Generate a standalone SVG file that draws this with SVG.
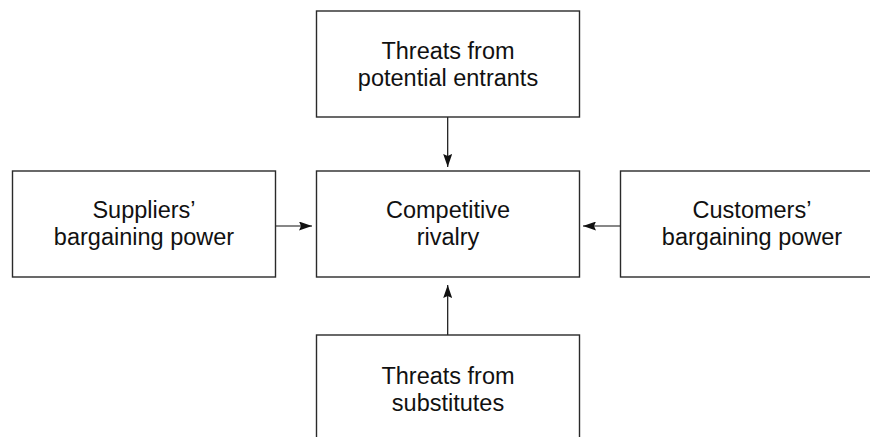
<svg xmlns="http://www.w3.org/2000/svg" width="870" height="437" viewBox="0 0 870 437">
<style>
.box{fill:#fff;stroke:#2a2a2a;stroke-width:1.4}
.lbl{font-family:"Liberation Sans",Arial,sans-serif;font-size:23.5px;fill:#111;text-anchor:middle}
.con{stroke:#111;stroke-width:1.2;fill:none;marker-end:url(#ah)}
</style>
<defs>
<marker id="ah" viewBox="0 0 13 9" refX="13" refY="4.5" markerWidth="13" markerHeight="9" markerUnits="userSpaceOnUse" orient="auto">
<path d="M0,0 L13,4.5 L0,9 L2,4.5 z" fill="#111"/>
</marker>
</defs>
<rect width="870" height="437" fill="#fff"/>
<g id="connectors">
<line class="con" x1="447.7" y1="117" x2="447.7" y2="167"/>
<line class="con" x1="276" y1="226" x2="312" y2="226"/>
<line class="con" x1="620" y1="226" x2="583" y2="226"/>
<line class="con" x1="447.7" y1="335" x2="447.7" y2="285"/>
</g>
<g id="entrants">
<rect class="box" x="316.5" y="11" width="263" height="106"/>
<text class="lbl" x="448" y="59">Threats from</text>
<text class="lbl" x="448" y="86">potential entrants</text>
</g>
<g id="rivalry">
<rect class="box" x="316.5" y="171" width="263" height="106"/>
<text class="lbl" x="448" y="218">Competitive</text>
<text class="lbl" x="448" y="245">rivalry</text>
</g>
<g id="suppliers">
<rect class="box" x="12.5" y="171" width="263" height="106"/>
<text class="lbl" x="144" y="218">Suppliers’</text>
<text class="lbl" x="144" y="245">bargaining power</text>
</g>
<g id="customers">
<rect class="box" x="620.5" y="171" width="263" height="106"/>
<text class="lbl" x="752" y="218">Customers’</text>
<text class="lbl" x="752" y="245">bargaining power</text>
</g>
<g id="substitutes">
<rect class="box" x="316.5" y="335" width="263" height="106"/>
<text class="lbl" x="448" y="384">Threats from</text>
<text class="lbl" x="448" y="411">substitutes</text>
</g>
</svg>
